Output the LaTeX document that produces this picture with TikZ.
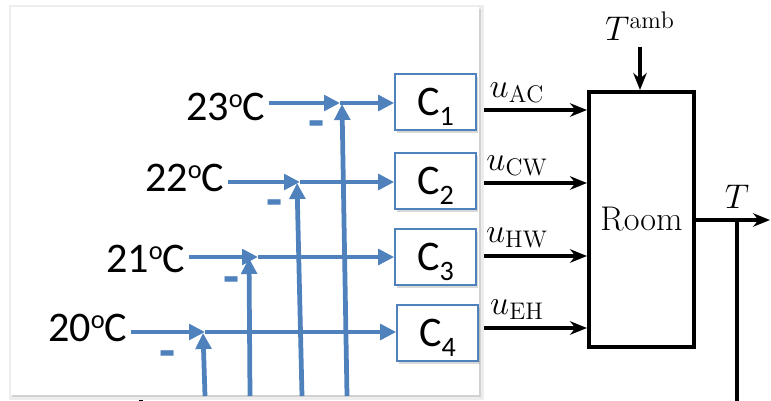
\RequirePackage{fix-cm}
\documentclass[tikz,border=0pt]{standalone}
\usepackage{fontspec}
\newfontfamily\slidefont{Carlito}
\usetikzlibrary{arrows.meta,positioning,shadows}
\definecolor{ppblue}{RGB}{79,129,189}
\newcommand\degC{\raisebox{7pt}{\fontsize{15}{15}\selectfont o}C}
\newcommand\csub[1]{C\raisebox{-5.5pt}{\fontsize{16}{16}\selectfont #1}}
\tikzset{cbox/.style={draw=ppblue,line width=0.9pt,fill=white,minimum width=1.62cm,minimum height=1.12cm,inner sep=0pt,text depth=0pt,
    font=\slidefont\fontsize{24}{28}\selectfont,drop shadow={shadow xshift=1pt,shadow yshift=-1.5pt,opacity=0.3}},
  temp/.style={inner sep=2pt,font=\slidefont\fontsize{24}{28}\selectfont},
  minus/.style={text=ppblue,inner sep=0pt,font=\slidefont\bfseries\fontsize{30}{30}\selectfont},
  barr/.style={-{Triangle[length=3.2mm,width=3.1mm]},ppblue,line width=2.7pt},
  karr/.style={-{Stealth[length=3.4mm,width=2.7mm]},line width=2pt},
  mfont/.style={font=\fontsize{19.5}{22}\selectfont},
  room/.style={draw,line width=2.3pt,minimum width=2.1cm,minimum height=5.1cm,mfont}}

\begin{document}
\begin{tikzpicture}[x=0.02cm,y=-0.02cm]
\useasboundingbox (0,0) rectangle (771,400);
\clip (0,0) rectangle (771,400);
% room model behind the slide panel
\node[room] (R) at (641.5,219.5) {Room};
\node[mfont] (Ta) at (640,26) {$T^{\mathrm{amb}}$};
\draw[karr] (Ta.south) -- (Ta.south |- R.north);
\coordinate (a1) at (470,110);
\coordinate (a2) at (470,183);
\coordinate (a3) at (470,256);
\coordinate (a4) at (470,328);
\draw[karr] (a1) -- (a1 -| R.west);
\draw[karr] (a2) -- (a2 -| R.west);
\draw[karr] (a3) -- (a3 -| R.west);
\draw[karr] (a4) -- (a4 -| R.west);
\node[mfont,anchor=base] (u1) at (517,97) {$u_{\mathrm{AC}}$};
\node[mfont,anchor=base] (u2) at (517,170) {$u_{\mathrm{CW}}$};
\node[mfont,anchor=base] (u3) at (517,242) {$u_{\mathrm{HW}}$};
\node[mfont,anchor=base] (u4) at (517,314) {$u_{\mathrm{EH}}$};
\coordinate (fb) at (737,220);
\coordinate (o) at (770,220);
\coordinate (fb2) at (737,420);
\coordinate (fb3) at (141,380);
\draw[karr] (R.east |- fb) -- (o);
\node[mfont] (T) at (737,197) {$T$};
\draw[line width=2pt] (fb) -- (fb2) -| (fb3);
% slide panel
\fill[black!7] (9,5) rectangle (484,400);
\fill[black!18] (12,9) rectangle (481,397);
\fill[white] (11,7) rectangle (479,395);
% controllers
\node[cbox] (C1) at (435.5,102) {\csub{1}};
\node[cbox] (C2) at (435.5,181) {\csub{2}};
\node[cbox] (C3) at (435.5,257) {\csub{3}};
\node[cbox] (C4) at (437.5,333) {\csub{4}};
\node[temp,anchor=base east] (t1) at (269,120) {23\degC};
\node[temp,anchor=base east] (t2) at (228,191) {22\degC};
\node[temp,anchor=base east] (t3) at (189,272) {21\degC};
\node[temp,anchor=base east] (t4) at (131,341) {20\degC};
% summing points: horizontal tip s, vertical tip v
\coordinate (s1) at (340,103);
\coordinate (s2) at (300,182);
\coordinate (s3) at (258,257);
\coordinate (s4) at (205,332);
\coordinate (v1) at (342,104);
\coordinate (v2) at (297,183);
\coordinate (v3) at (249,258);
\coordinate (v4) at (203,333);
\coordinate (b1) at (347,396);
\coordinate (b2) at (302,396);
\coordinate (b3) at (250,396);
\coordinate (b4) at (205,396);
\draw[barr] (t1.east |- s1) -- (s1);
\draw[barr] (t2.east |- s2) -- (s2);
\draw[barr] (t3.east |- s3) -- (s3);
\draw[barr] (t4.east |- s4) -- (s4);
\draw[barr] (b1) -- (v1);
\draw[barr] (b2) -- (v2);
\draw[barr] (b3) -- (v3);
\draw[barr] (b4) -- (v4);
\draw[barr] (s1) -- (C1.west |- s1);
\draw[barr] (s2) -- (C2.west |- s2);
\draw[barr] (s3) -- (C3.west |- s3);
\draw[barr] (s4) -- (C4.west |- s4);
\node[minus] (m1) at (317,130) {-};
\node[minus] (m2) at (275,209) {-};
\node[minus] (m3) at (232,286) {-};
\node[minus] (m4) at (168,360) {-};
\end{tikzpicture}
\end{document}
